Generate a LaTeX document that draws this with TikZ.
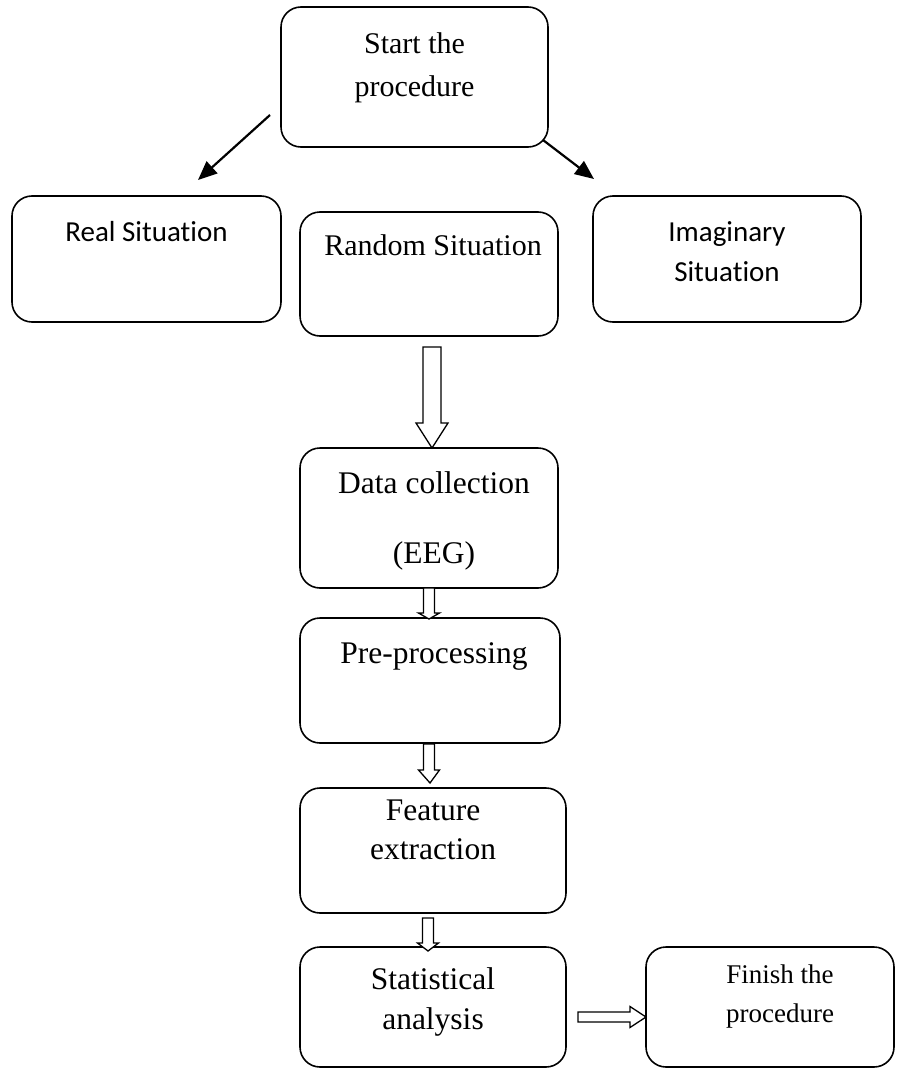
\documentclass[tikz,border=0pt]{standalone}
\usepackage{fontspec}
\setmainfont{Liberation Serif}
\newfontfamily\sansbody[Ligatures=NoCommon]{Carlito}
\usetikzlibrary{arrows.meta,calc}
\begin{document}
\begin{tikzpicture}[x=1pt,y=-1pt,
  box/.style={draw, line width=1.6pt, rounded corners=20pt, anchor=north west,
              inner sep=0pt, outer sep=0pt},
  serif/.style={anchor=base, inner sep=0pt, font=\fontsize{30}{36}\selectfont},
  serifl/.style={anchor=base, inner sep=0pt, font=\fontsize{31.5}{37}\selectfont},
  small/.style={anchor=base, inner sep=0pt, font=\fontsize{27}{32}\selectfont},
  sans/.style={anchor=base, inner sep=0pt, font=\sansbody\fontsize{29}{35}\selectfont},
  solid arrow/.style={line width=2.2pt, -{Triangle[length=19pt,width=16pt]}},
  hollow/.style={draw, line width=1.3pt, fill=white, line join=miter}]
\useasboundingbox (0,0) rectangle (904,1070);

% boxes
\node[box, minimum width=267pt, minimum height=140pt] (start)   at (281,7)   {};
\node[box, minimum width=269pt, minimum height=126pt] (real)    at (12,196)  {};
\node[box, minimum width=258pt, minimum height=124pt] (random)  at (300,212) {};
\node[box, minimum width=268pt, minimum height=126pt] (imag)    at (593,196) {};
\node[box, minimum width=258pt, minimum height=140pt] (data)    at (300,448) {};
\node[box, minimum width=260pt, minimum height=125pt] (pre)     at (300,618) {};
\node[box, minimum width=266pt, minimum height=125pt] (feature) at (300,788) {};
\node[box, minimum width=266pt, minimum height=120pt] (stat)    at (300,947) {};
\node[box, minimum width=248pt, minimum height=120pt] (finish)  at (646,947) {};

% labels
\node[serif] (start1) at ($(start.north)+(0,47)$) {Start the};
\node[serif] (start2) at ($(start.north)+(0,90)$) {procedure};
\node[sans] (real1) at ($(real.north)+(0,45)$) {Real Situation};
\node[serif] (random1) at ($(random.north)+(4,43)$) {Random Situation};
\node[sans] (imag1) at ($(imag.north)+(0,45)$) {Imaginary};
\node[sans] (imag2) at ($(imag.north)+(0,85)$) {Situation};
\node[serifl] (data1) at ($(data.north)+(5,45)$) {Data collection};
\node[serifl] (data2) at ($(data.north)+(5,115)$) {(EEG)};
\node[serifl] (pre1) at ($(pre.north)+(4,45)$) {Pre-processing};
\node[serifl] (feat1) at ($(feature.north)+(0,32)$) {Feature};
\node[serifl] (feat2) at ($(feature.north)+(0,71)$) {extraction};
\node[serifl] (stat1) at ($(stat.north)+(0,42)$) {Statistical};
\node[serifl] (stat2) at ($(stat.north)+(0,82)$) {analysis};
\node[small] (fin1) at ($(finish.north)+(10,36)$) {Finish the};
\node[small] (fin2) at ($(finish.north)+(10,75)$) {procedure};

% branching arrows from the start box
\coordinate (la) at (270,115);
\coordinate (lb) at (198,180);
\coordinate (ra) at (543,140);
\coordinate (rb) at (594,179);
\draw[solid arrow] (la) -- (lb);
\draw[solid arrow] (ra) -- (rb);

% wide block arrow below the random situation
\coordinate (bt) at ($(random.south)+(3,11)$);
\coordinate (bh) at ($(data.north)+(3,0)$);
\draw[hollow] ($(bt)+(-9,0)$) -- ($(bt)+(-9,76)$) -- ($(bt)+(-16,76)$) -- (bh)
  -- ($(bt)+(16,76)$) -- ($(bt)+(9,76)$) -- ($(bt)+(9,0)$) -- cycle;

% narrow block arrows down the chain
\draw[hollow] ($(data.south)+(-5.5,0)$) -- ($(data.south)+(-5.5,25)$)
  -- ($(data.south)+(-10.5,25)$) -- ($(pre.north)+(-1,1)$)
  -- ($(data.south)+(10.5,25)$) -- ($(data.south)+(5.5,25)$)
  -- ($(data.south)+(5.5,0)$) -- cycle;
\draw[hollow] ($(pre.south)+(-6.5,1)$) -- ($(pre.south)+(-6.5,27)$)
  -- ($(pre.south)+(-11.5,27)$) -- ($(feature.north)+(-3,-5)$)
  -- ($(pre.south)+(9.5,27)$) -- ($(pre.south)+(4.5,27)$)
  -- ($(pre.south)+(4.5,1)$) -- cycle;
\draw[hollow] ($(feature.south)+(-10.5,5)$) -- ($(feature.south)+(-10.5,30)$)
  -- ($(feature.south)+(-15.5,30)$) -- ($(stat.north)+(-5,4)$)
  -- ($(feature.south)+(5.5,30)$) -- ($(feature.south)+(0.5,30)$)
  -- ($(feature.south)+(0.5,5)$) -- cycle;

% sideways block arrow to the finish box
\coordinate (ha) at ($(stat.north east)+(12,70)$);
\coordinate (hb) at ($(finish.north west)+(0,70)$);
\draw[hollow] ($(ha)+(0,-5)$) -- ($(hb)+(-16,-5)$) -- ($(hb)+(-16,-10.5)$)
  -- (hb) -- ($(hb)+(-16,10.5)$) -- ($(hb)+(-16,5)$) -- ($(ha)+(0,5)$) -- cycle;
\end{tikzpicture}
\end{document}
